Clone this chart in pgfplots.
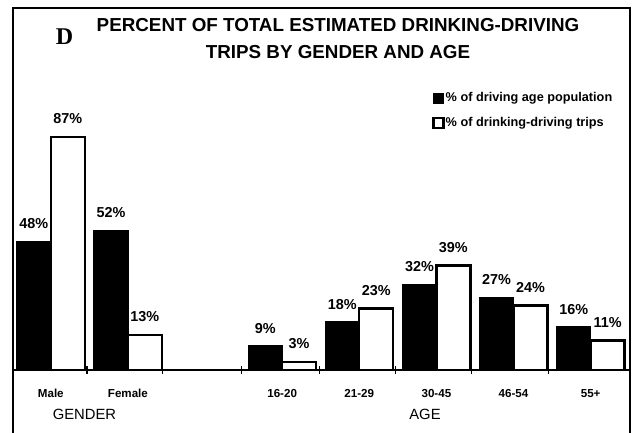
\documentclass[border=0pt]{standalone}
\usepackage{pgfplots}
\pgfplotsset{compat=1.18}
\usepackage{fontspec}
\setmainfont{Liberation Sans}
\newfontfamily\serifD{Liberation Serif}
\begin{document}
\begin{tikzpicture}
\useasboundingbox (0,0) rectangle (319pt,216.5pt);
\begin{axis}[
  at={(6.5pt,31.5pt)}, anchor=south west,
  width=308.5pt, height=181pt, scale only axis,
  xmin=-0.49, xmax=7.51, ymin=0, ymax=135,
  axis line style={line width=0.9pt},
  ybar=0pt, bar width=0.44,
  xtick={0,1,3,4,5,6,7},
  xticklabels={Male,Female,16-20,21-29,30-45,46-54,55+},
  xtick pos=bottom,
  major tick length=0pt,
  extra x ticks={0.47,1.45,2.47,3.48,4.47,5.46,6.45},
  extra x tick labels={},
  extra x tick style={xtick pos=bottom, major tick length=4pt, tick align=center, tick style={line width=0.6pt, black}},
  ytick=\empty,
  xticklabel style={font=\bfseries\fontsize{5.8}{6.5}\selectfont, anchor=base, yshift=-14pt, inner sep=0pt},
  nodes near coords, point meta=explicit symbolic,
  every node near coord/.append style={font=\bfseries\fontsize{7.2}{8}\selectfont, anchor=south, inner sep=0pt, text depth=0pt, yshift=6pt, black},
  legend style={at={(0.679,0.771)}, anchor=north west, draw=none, fill=none,
    font=\bfseries\fontsize{6.35}{7}\selectfont, row sep=5.6pt, inner sep=0pt,
    nodes={inner sep=0.5pt, text height=4.6pt, text depth=1.3pt}},
  legend cell align=left,
  legend image code/.code={\draw[#1] (0pt,-2.5pt) rectangle (5pt,2.5pt);},
]
\addplot[fill=black, draw=black, line width=0.6pt] coordinates {
  (0,48)[48\%] (1,52)[52\%] (3,9)[9\%] (4,18)[18\%] (5,32)[32\%] (6,27)[27\%] (7,16)[16\%]};
\addlegendentry{\% of driving age population}
\addplot[fill=white, draw=black, line width=1.2pt] coordinates {
  (0,87)[87\%] (1,13)[13\%] (3,3)[3\%] (4,23)[23\%] (5,39)[39\%] (6,24)[24\%] (7,11)[11\%]};
\addlegendentry{\% of drinking-driving trips}
\end{axis}
\draw[line width=0.9pt] (6.5pt,31.5pt) -- (6.5pt,0pt);
\draw[line width=0.9pt] (315pt,31.5pt) -- (315pt,0pt);
\node[anchor=base, font=\bfseries\fontsize{9.4}{11}\selectfont, inner sep=0pt] at (169pt,200.5pt) {PERCENT OF TOTAL ESTIMATED DRINKING-DRIVING};
\node[anchor=base, font=\bfseries\fontsize{9.4}{11}\selectfont, inner sep=0pt] at (169pt,187pt) {TRIPS BY GENDER AND AGE};
\node[anchor=base, font=\serifD\bfseries\fontsize{12}{14}\selectfont, inner sep=0pt] at (32.25pt,194pt) {D};
\node[anchor=base, font=\fontsize{7.4}{9}\selectfont, inner sep=0pt] at (42.25pt,6.5pt) {GENDER};
\node[anchor=base, font=\fontsize{7.4}{9}\selectfont, inner sep=0pt] at (212.5pt,6.5pt) {AGE};
\end{tikzpicture}
\end{document}
